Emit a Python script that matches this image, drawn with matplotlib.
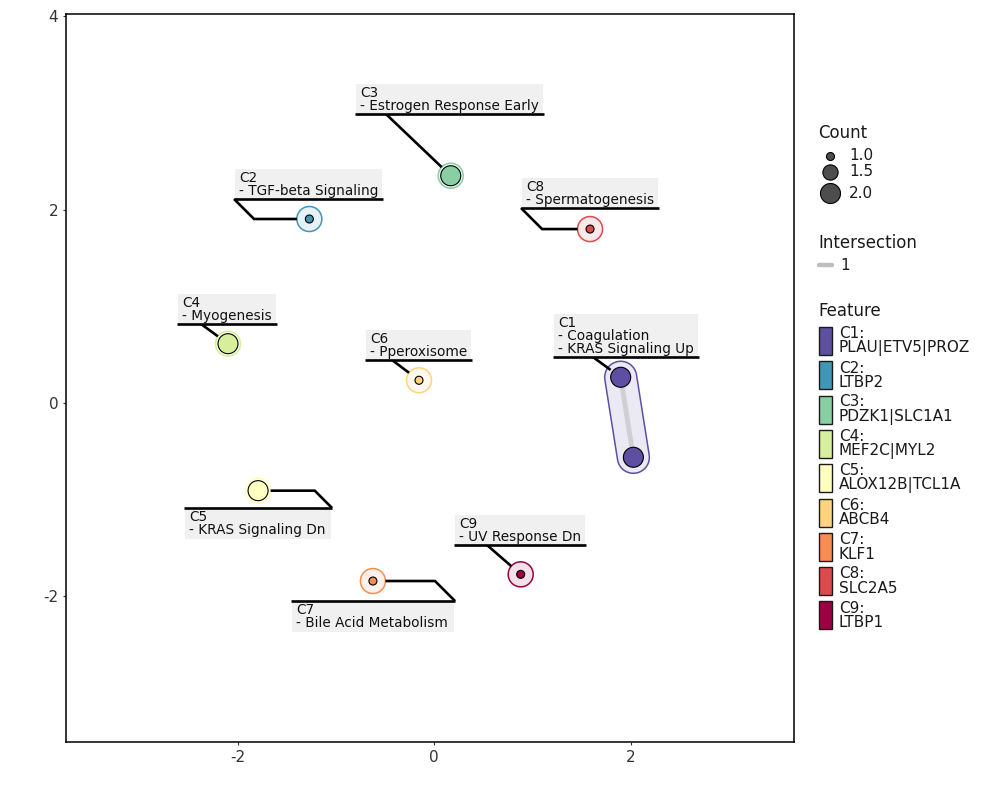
import numpy as np
import matplotlib
matplotlib.use('Agg')
import matplotlib.pyplot as plt
from matplotlib.patches import Rectangle, Polygon

# ---------------- data ----------------
clusters = ['C1', 'C2', 'C3', 'C4', 'C5', 'C6', 'C7', 'C8', 'C9']
genes = ['PLAU|ETV5|PROZ', 'LTBP2', 'PDZK1|SLC1A1', 'MEF2C|MYL2', 'ALOX12B|TCL1A',
         'ABCB4', 'KLF1', 'SLC2A5', 'LTBP1']
colors = ['#5E4FA2', '#3F96B7', '#88CFA4', '#D7EF9B', '#FFFFBF',
          '#FED380', '#F88D52', '#DD4A4C', '#9E0142']
pathways = [['Coagulation', 'KRAS Signaling Up'], ['TGF-beta Signaling'],
            ['Estrogen Response Early'], ['Myogenesis'], ['KRAS Signaling Dn'],
            ['Pperoxisome'], ['Bile Acid Metabolism'], ['Spermatogenesis'],
            ['UV Response Dn']]

node_cluster = [0, 0, 1, 2, 3, 4, 5, 6, 7, 8]
node_x = [1.900, 2.029, -1.269, 0.170, -2.097, -1.791, -0.153, -0.622, 1.588, 0.882]
node_y = [0.266, -0.561, 1.902, 2.349, 0.613, -0.906, 0.235, -1.840, 1.798, -1.771]
node_count = [2, 2, 1, 2, 2, 2, 1, 1, 1, 1]

edge_from = [0]
edge_to = [1]
edge_weight = [1]

# label anchors (underline left end, underline y), side, connector start x
label_x = [1.211, -2.036, -0.804, -2.616, -2.545, -0.702, -1.455, 0.885, 0.204]
label_y = [0.475, 2.109, 2.987, 0.817, -1.085, 0.444, -2.047, 2.016, -1.468]
label_side = ['above', 'above', 'above', 'above', 'below', 'above', 'below', 'above', 'above']
con_x = [1.618, -2.036, -0.489, -2.372, -1.038, -0.427, 0.214, 0.885, 0.539]

x_ticks = [-2, 0, 2]
y_ticks = [-2, 0, 2, 4]
count_legend = [1.0, 1.5, 2.0]

# ---------------- figure ----------------
W, H = 1000, 800
fig = plt.figure(figsize=(10, 8), dpi=100)
ax = fig.add_axes([0.066, 1 - 742 / 800, (794 - 66) / 1000, (742 - 14) / 800])
ax.set_xlim(-3.746, 3.664)
ax.set_ylim(-3.504, 4.021)
ax.set_xticks(x_ticks)
ax.set_yticks(y_ticks)
ax.set_xticklabels([str(v) for v in x_ticks])
ax.set_yticklabels([str(v) for v in y_ticks])
ax.tick_params(length=2.5, width=0.8, color='#333333', labelsize=11, labelcolor='#333333', pad=3)
for s in ax.spines.values():
    s.set_linewidth(1.1)
    s.set_color('black')


def d2p(x, y):
    dx, dy = ax.transData.transform((x, y))
    return dx, H - dy


def p2d(px, py):
    return tuple(ax.transData.inverted().transform((px, H - py)))


def radius_px(c):
    return np.sqrt(16 + (c - 1) * 84)


def s_pt(c):
    return (2 * radius_px(c) * 0.72) ** 2


R_HALO = 12.5
LABEL_FS = 9.8
LABEL_LS = 0.9

# hulls / halos
for ci in range(len(clusters)):
    idx = [k for k in range(len(node_x)) if node_cluster[k] == ci]
    pts = [d2p(node_x[k], node_y[k]) for k in idx]
    col = colors[ci]
    if len(pts) == 1:
        px, py = pts[0]
        poly = [(px + R_HALO * np.cos(a), py + R_HALO * np.sin(a))
                for a in np.linspace(0, 2 * np.pi, 100)]
    else:
        (x1, y1), (x2, y2) = pts[0], pts[1]
        th = np.arctan2(y2 - y1, x2 - x1)
        R = R_HALO + 3.5
        poly = []
        for a in np.linspace(th + np.pi / 2, th + 3 * np.pi / 2, 50):
            poly.append((x1 + R * np.cos(a), y1 + R * np.sin(a)))
        for a in np.linspace(th - np.pi / 2, th + np.pi / 2, 50):
            poly.append((x2 + R * np.cos(a), y2 + R * np.sin(a)))
    dpoly = [p2d(a, b) for a, b in poly]
    ax.add_patch(Polygon(dpoly, closed=True, facecolor=col, alpha=0.12, edgecolor='none', zorder=2))
    ax.add_patch(Polygon(dpoly, closed=True, facecolor='none', edgecolor=col, lw=1.1, zorder=2.1))

# edges
for a, b, w in zip(edge_from, edge_to, edge_weight):
    ax.plot([node_x[a], node_x[b]], [node_y[a], node_y[b]], color='#BEBEBE', lw=3.5,
            alpha=0.6, solid_capstyle='round', zorder=3)

# nodes
ax.scatter(node_x, node_y, s=[s_pt(c) for c in node_count],
           c=[colors[k] for k in node_cluster], edgecolors='black', linewidths=0.8, zorder=4)

# labels
fig.canvas.draw()
rend = fig.canvas.get_renderer()
for i, c in enumerate(clusters):
    lx, ly = d2p(label_x[i], label_y[i])
    txt = c + '\n' + '\n'.join('- ' + p for p in pathways[i])
    if label_side[i] == 'above':
        t = ax.text(*p2d(lx + 5, ly - 1), txt, ha='left', va='bottom', fontsize=LABEL_FS,
                    linespacing=LABEL_LS, color='#111111', zorder=7)
    else:
        t = ax.text(*p2d(lx + 5, ly + 2), txt, ha='left', va='top', fontsize=LABEL_FS,
                    linespacing=LABEL_LS, color='#111111', zorder=7)
    bb = t.get_window_extent(rend)
    cx, _ = d2p(con_x[i], label_y[i])
    right = max(bb.x1 + 5, cx)
    if label_side[i] == 'above':
        top = H - bb.y1 - 2
        bot = ly
    else:
        top = ly
        bot = H - bb.y0 + 2
    (bx0, by0) = p2d(lx + 1, bot)
    (bx1, by1) = p2d(right - 1, top)
    ax.add_patch(Rectangle((bx0, by0), bx1 - bx0, by1 - by0, facecolor='#F0F0F0',
                           edgecolor='none', zorder=6, clip_on=False))
    ax.plot([label_x[i], p2d(right, ly)[0]], [label_y[i], label_y[i]], color='black',
            lw=1.9, solid_capstyle='butt', zorder=8, clip_on=False)

    # connector
    nk = [k for k in range(len(node_x)) if node_cluster[k] == i]
    npts = [d2p(node_x[k], node_y[k]) for k in nk]
    dists = [np.hypot(p[0] - cx, p[1] - ly) for p in npts]
    nx, ny = npts[int(np.argmin(dists))]
    ddx, ddy = nx - cx, ny - ly
    if abs(ddx) > abs(ddy) + R_HALO:
        sgn = np.sign(ddx)
        path = [(cx, ly), (cx + sgn * abs(ddy), ny), (nx - sgn * R_HALO, ny)]
    else:
        L = np.hypot(ddx, ddy)
        f = (L - R_HALO) / L
        path = [(cx, ly), (cx + ddx * f, ly + ddy * f)]
    dp = [p2d(a, b) for a, b in path]
    ax.plot([p[0] for p in dp], [p[1] for p in dp], color='black', lw=1.9,
            solid_joinstyle='miter', solid_capstyle='butt', zorder=5, clip_on=False)

# ---------------- legends (pixel overlay) ----------------
lg = fig.add_axes([0, 0, 1, 1], facecolor='none')
lg.set_xlim(0, W)
lg.set_ylim(H, 0)
lg.axis('off')

TITLE_FS = 12
ENTRY_FS = 11

lg.text(818, 133, 'Count', fontsize=TITLE_FS, va='center', ha='left', color='#1a1a1a')
for v, yy in zip(count_legend, [156, 172, 193]):
    lg.scatter([830], [yy], s=s_pt(v), c='#4D4D4D', edgecolors='black', linewidths=0.8)
    lg.text(849, yy, f'{v:.1f}', fontsize=ENTRY_FS, va='center', ha='left', color='#1a1a1a')

lg.text(818, 243, 'Intersection', fontsize=TITLE_FS, va='center', ha='left', color='#1a1a1a')
lg.plot([819, 832], [265, 265], color='#BEBEBE', lw=3.2, solid_capstyle='round')
lg.text(840, 265, str(edge_weight[0]), fontsize=ENTRY_FS, va='center', ha='left', color='#1a1a1a')

lg.text(818, 311, 'Feature', fontsize=TITLE_FS, va='center', ha='left', color='#1a1a1a')
for i, (c, g) in enumerate(zip(clusters, genes)):
    y0 = 327 + i * 34.3
    lg.add_patch(Rectangle((819, y0), 13, 28, facecolor=colors[i], edgecolor='#1a1a1a', lw=1.0))
    lg.text(839, y0 + 14, f'{c}:\n{g}', fontsize=ENTRY_FS, va='center', ha='left',
            linespacing=0.96, color='#1a1a1a')

fig.savefig('out.png', dpi=100)
